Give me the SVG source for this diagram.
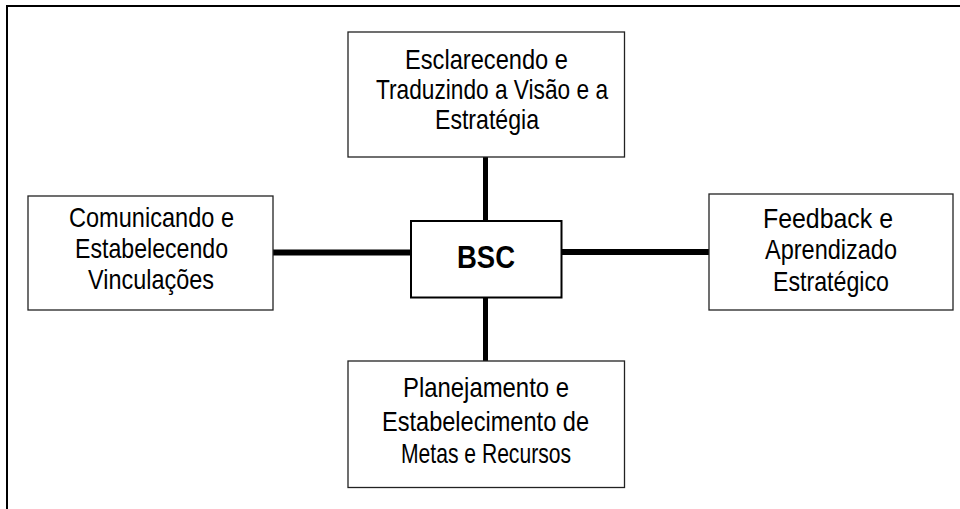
<svg xmlns="http://www.w3.org/2000/svg" width="960" height="509" viewBox="0 0 960 509">
<style>
.frame{stroke:#000;stroke-width:2;fill:none}
.box{fill:#fff;stroke:#222;stroke-width:1.3}
.core{fill:#fff;stroke:#000;stroke-width:2}
.conn{stroke:#000;stroke-width:6;fill:none}
text{font-family:"Liberation Sans",Arial,sans-serif;font-size:28px;fill:#000;text-anchor:middle}
.bold{font-weight:bold;font-size:32px}
</style>
<rect width="960" height="509" fill="#fff"/>
<path class="frame" d="M7,509 V6 H960"/>
<g id="connectors">
<line class="conn" x1="485.5" y1="157" x2="485.5" y2="222" style="stroke-width:5"/>
<line class="conn" x1="485.5" y1="297" x2="485.5" y2="361" style="stroke-width:5"/>
<line class="conn" x1="272" y1="252.5" x2="412" y2="252.5"/>
<line class="conn" x1="561" y1="252" x2="709" y2="252"/>
</g>
<g id="top">
<rect class="box" x="348" y="32" width="276.5" height="125"/>
<text x="486.5" y="69" textLength="163" lengthAdjust="spacingAndGlyphs">Esclarecendo e</text>
<text x="492" y="99" textLength="232" lengthAdjust="spacingAndGlyphs">Traduzindo a Visão e a</text>
<text x="487" y="129" textLength="104" lengthAdjust="spacingAndGlyphs">Estratégia</text>
</g>
<g id="left">
<rect class="box" x="28" y="196" width="245" height="114"/>
<text x="151.5" y="227" textLength="165" lengthAdjust="spacingAndGlyphs">Comunicando e</text>
<text x="151.5" y="258" textLength="153" lengthAdjust="spacingAndGlyphs">Estabelecendo</text>
<text x="151" y="289" textLength="126" lengthAdjust="spacingAndGlyphs">Vinculações</text>
</g>
<g id="bsc">
<rect class="core" x="411" y="221" width="150.5" height="76.5"/>
<text class="bold" x="486" y="268" textLength="58" lengthAdjust="spacingAndGlyphs">BSC</text>
</g>
<g id="right">
<rect class="box" x="709" y="194" width="244" height="116"/>
<text x="828" y="228" textLength="130" lengthAdjust="spacingAndGlyphs">Feedback e</text>
<text x="831" y="259" textLength="132" lengthAdjust="spacingAndGlyphs">Aprendizado</text>
<text x="831" y="291" textLength="116" lengthAdjust="spacingAndGlyphs">Estratégico</text>
</g>
<g id="bottom">
<rect class="box" x="348" y="361" width="276.5" height="126.5"/>
<text x="486" y="397" textLength="166" lengthAdjust="spacingAndGlyphs">Planejamento e</text>
<text x="485.5" y="431" textLength="207" lengthAdjust="spacingAndGlyphs">Estabelecimento de</text>
<text x="486" y="463" textLength="170" lengthAdjust="spacingAndGlyphs">Metas e Recursos</text>
</g>
</svg>
